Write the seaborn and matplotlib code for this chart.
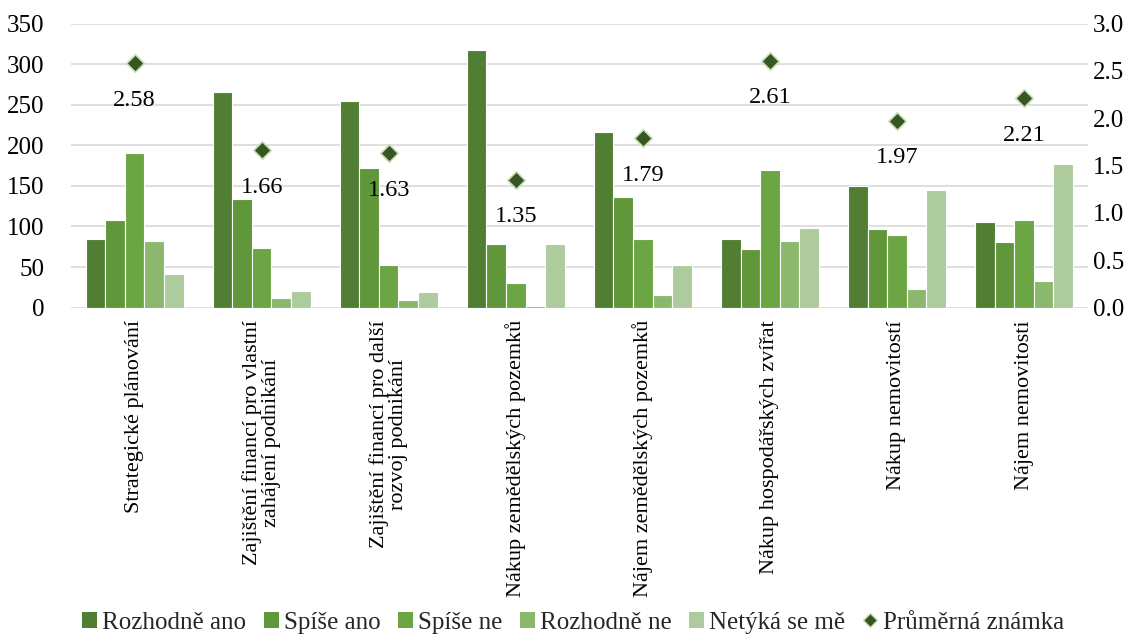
import matplotlib
matplotlib.use("Agg")
import matplotlib.pyplot as plt
import numpy as np
import pandas as pd
import seaborn as sns
from matplotlib.patches import Patch
from matplotlib.lines import Line2D

categories = [
    "Strategické plánování",
    "Zajištění financí pro vlastní\nzahájení podnikání",
    "Zajištění financí pro další\nrozvoj podnikání",
    "Nákup zemědělských pozemků",
    "Nájem zemědělských pozemků",
    "Nákup hospodářských zvířat",
    "Nákup nemovitostí",
    "Nájem nemovitosti",
]
responses = ["Rozhodně ano", "Spíše ano", "Spíše ne", "Rozhodně ne", "Netýká se mě"]
rozhodne_ano = [84, 266, 254, 317, 217, 84, 150, 106]
spise_ano = [108, 134, 172, 78, 136, 72, 97, 81]
spise_ne = [190, 74, 52, 31, 85, 170, 90, 108]
rozhodne_ne = [82, 12, 9, 2, 16, 82, 23, 33]
netyka = [41, 20, 19, 79, 52, 98, 145, 177]
prumer = [2.58, 1.66, 1.63, 1.35, 1.79, 2.61, 1.97, 2.21]

colors = ["#507E32", "#5F973A", "#6CA544", "#8AB96E", "#AECB9D"]
diamond_color = "#375623"

series = [rozhodne_ano, spise_ano, spise_ne, rozhodne_ne, netyka]
df = pd.DataFrame(
    [(c, r, v) for r, vals in zip(responses, series) for c, v in zip(categories, vals)],
    columns=["kategorie", "odpoved", "pocet"],
)

sns.set_theme(style="white")
plt.rcParams["font.family"] = ["Liberation Serif", "DejaVu Serif"]

fig = plt.figure(figsize=(11.46, 6.37), dpi=100)
ax = fig.add_axes([0.062, 0.517, 0.887, 0.446])

sns.barplot(data=df, x="kategorie", y="pocet", hue="odpoved", palette=colors,
            width=0.77, edgecolor="white", linewidth=0.8, saturation=1,
            ax=ax, legend=False)

ax.set_ylim(0, 350)
ax.set_yticks(np.arange(0, 351, 50))
ax.yaxis.grid(True, color="#D9D9D9", linewidth=1.2)
ax.set_axisbelow(True)
ax.set_xlim(-0.5, len(categories) - 0.5)
for s in ax.spines.values():
    s.set_visible(False)
ax.set_xlabel("")
ax.set_ylabel("")
ax.tick_params(axis="y", labelsize=18, length=0, pad=19, colors="black")
ax.tick_params(axis="x", labelsize=16, length=0, pad=9, colors="black")
ax.set_xticks(range(len(categories)))
ax.set_xticklabels(categories, rotation=90, ha="center", va="top",
                   multialignment="center", linespacing=1.0)

ax2 = ax.twinx()
ax2.set_ylim(0, 3.0)
ax2.set_yticks(np.arange(0, 3.01, 0.5))
ax2.set_yticklabels([f"{t:.1f}" for t in np.arange(0, 3.01, 0.5)])
ax2.tick_params(axis="y", labelsize=18, length=0, pad=4, colors="black")
for s in ax2.spines.values():
    s.set_visible(False)
ax2.grid(False)
xpos = np.arange(len(categories))
ax2.scatter(xpos, prumer, marker="D", s=80, color=diamond_color,
            edgecolor="#C5E0B4", linewidth=1.2, zorder=5)
for x, v in zip(xpos, prumer):
    ax2.annotate(f"{v:.2f}", (x, v), xytext=(0, -19), textcoords="offset points",
                 ha="center", va="top", fontsize=17.5, color="black")

handles = [Patch(facecolor=c, edgecolor="none") for c in colors]
handles.append(Line2D([], [], marker="D", linestyle="none", markersize=7,
                      markerfacecolor=diamond_color, markeredgecolor="#C5E0B4"))
fig.legend(handles, responses + ["Průměrná známka"], loc="lower center",
           bbox_to_anchor=(0.5, -0.03), ncol=6, frameon=False,
           prop={"family": "Liberation Serif", "size": 18},
           handlelength=0.6, handleheight=0.6, handletextpad=0.2, columnspacing=0.7)

fig.savefig("out.png", dpi=100)
